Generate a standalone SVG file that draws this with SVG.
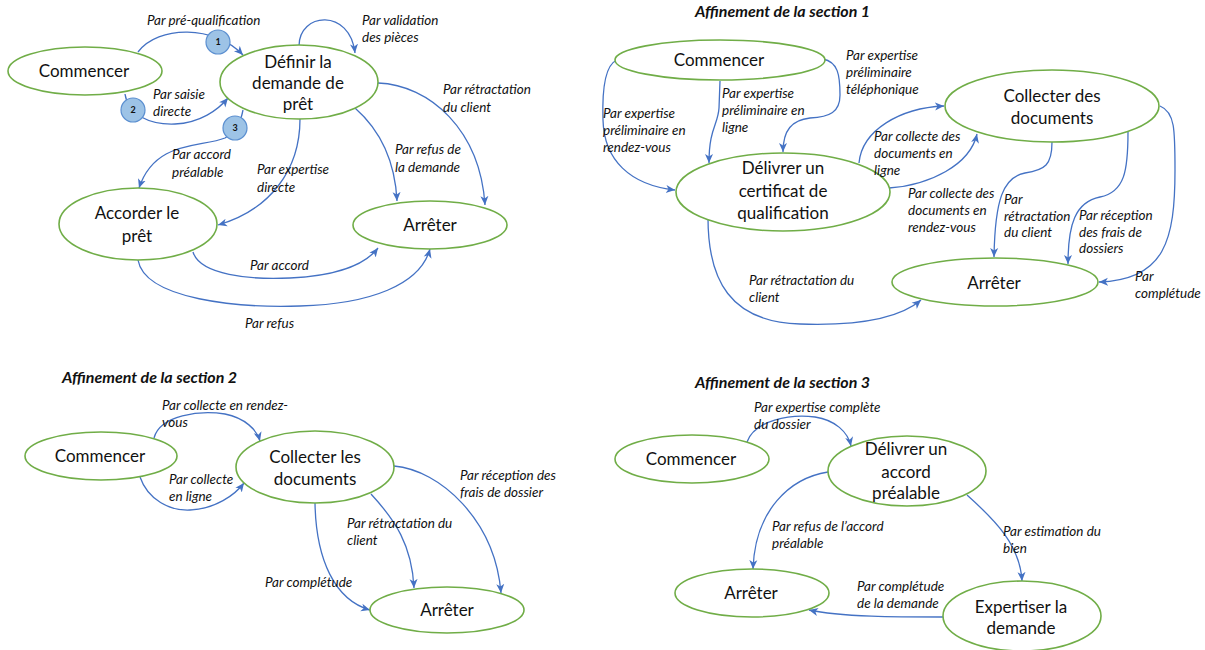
<svg xmlns="http://www.w3.org/2000/svg" width="1205" height="650" viewBox="0 0 1205 650">
<style>
  .nd ellipse{fill:#fff;stroke:#70AD47;stroke-width:1.6}
  .nd text{font-family:Lato,"Open Sans","Liberation Sans",sans-serif;font-size:17px;fill:#111;text-anchor:middle}
  .cn path{fill:none;stroke:#4472C4;stroke-width:1.3}
  .arr{marker-end:url(#ah)}
  .lb text{font-family:Lato,"Open Sans","Liberation Sans",sans-serif;font-size:13.5px;font-style:italic;fill:#111}
  .ttl{font-family:Lato,"Open Sans","Liberation Sans",sans-serif;font-size:16px;font-style:italic;font-weight:bold;fill:#111}
  .bd circle{fill:#9DC3E6;stroke:#5B8FD0;stroke-width:1.2}
  .bd text{font-family:Lato,"Liberation Sans",sans-serif;font-size:9px;font-weight:bold;fill:#111;text-anchor:middle}
</style>
<defs>
  <marker id="ah" markerUnits="userSpaceOnUse" markerWidth="11" markerHeight="11" refX="9" refY="5" orient="auto">
    <path d="M0,1 L9,5 L0,9 L2.5,5 z" fill="#4472C4"/>
  </marker>
</defs>
<rect width="1205" height="650" fill="#fff"/>

<!-- titles -->
<text class="ttl" x="695" y="17">Affinement de la section 1</text>
<text class="ttl" x="62" y="383">Affinement de la section 2</text>
<text class="ttl" x="695" y="388">Affinement de la section 3</text>

<!-- connectors -->
<g id="connectors" class="cn">
  <!-- main diagram -->
  <path class="arr" d="M138,52 C158,25 215,25 243,55"/>
  <path class="arr" d="M125,94 C128,115 150,125 175,124 C200,123 218,110 228,98"/>
  <path class="arr" d="M243,110 C241,120 238,130 225,138 C200,148 155,140 139,188"/>
  <path class="arr" d="M299,46 C299,12 350,8 355,53"/>
  <path class="arr" d="M378,83 C430,85 480,130 485,205"/>
  <path class="arr" d="M355,108 C380,130 395,160 397,201"/>
  <path class="arr" d="M300,119 C300,170 270,210 218,225"/>
  <path class="arr" d="M193,252 C200,275 250,280 290,278 C335,276 365,265 378,248"/>
  <path class="arr" d="M138,260 C145,300 240,308 300,306 C370,304 420,285 430,249"/>
  <!-- section 1 -->
  <path class="arr" d="M617,60 C605,65 602,90 603,120 C604,160 630,185 675,190"/>
  <path class="arr" d="M720,81 L719,108 C718,125 709,128 709,163"/>
  <path class="arr" d="M823,59 C838,62 840,75 840,95 C840,112 830,117 810,118 C792,120 783,130 783,152"/>
  <path class="arr" d="M859,163 C862,130 900,108 944,106"/>
  <path class="arr" d="M889,188 C930,185 970,165 977,134"/>
  <path class="arr" d="M1052,142 C1052,165 1045,170 1025,173 C1003,177 995,200 994,257"/>
  <path class="arr" d="M1128,132 C1128,170 1125,192 1100,197 C1075,202 1068,225 1068,264"/>
  <path class="arr" d="M1160,106 C1175,112 1175,130 1175,170 C1175,240 1165,280 1099,282"/>
  <path class="arr" d="M708,218 C708,280 730,322 800,324 C860,326 900,318 921,300"/>
  <!-- section 2 -->
  <path class="arr" d="M154,438 C160,415 200,410 225,414 C245,418 257,430 260,441"/>
  <path class="arr" d="M140,477 C148,500 170,511 190,510 C215,509 235,495 244,483"/>
  <path class="arr" d="M315,503 C316,560 335,600 370,610"/>
  <path class="arr" d="M371,494 C395,520 412,545 414,588"/>
  <path class="arr" d="M394,466 C440,470 495,520 501,593"/>
  <!-- section 3 -->
  <path class="arr" d="M747,442 C755,420 790,414 815,417 C835,420 848,432 851,446"/>
  <path class="arr" d="M828,472 C790,478 755,510 753,569"/>
  <path class="arr" d="M967,495 C995,520 1020,545 1022,581"/>
  <path class="arr" d="M943,617 C900,617 840,617 809,610"/>
</g>

<!-- badges -->
<g id="badge1" class="bd"><circle cx="218" cy="42" r="12"/><text x="218" y="45">1</text></g>
<g id="badge2" class="bd"><circle cx="133" cy="110" r="12"/><text x="133" y="113">2</text></g>
<g id="badge3" class="bd"><circle cx="235" cy="128" r="12"/><text x="235" y="131">3</text></g>

<!-- main nodes -->
<g id="m-commencer" class="nd"><ellipse cx="85" cy="71" rx="77" ry="24"/><text x="84" y="77">Commencer</text></g>
<g id="m-definir" class="nd"><ellipse cx="299" cy="82" rx="79" ry="37"/><text x="298" y="68">Définir la</text><text x="298" y="89">demande de</text><text x="298" y="110">prêt</text></g>
<g id="m-accorder" class="nd"><ellipse cx="138" cy="224" rx="79" ry="36"/><text x="137" y="219">Accorder le</text><text x="137" y="242">prêt</text></g>
<g id="m-arreter" class="nd"><ellipse cx="430" cy="225" rx="77" ry="24"/><text x="430" y="231">Arrêter</text></g>

<!-- section 1 nodes -->
<g id="s1-commencer" class="nd"><ellipse cx="720" cy="60" rx="105" ry="20"/><text x="719" y="66">Commencer</text></g>
<g id="s1-delivrer" class="nd"><ellipse cx="783" cy="192" rx="107" ry="39"/><text x="783" y="174">Délivrer un</text><text x="783" y="197">certificat de</text><text x="783" y="219">qualification</text></g>
<g id="s1-collecter" class="nd"><ellipse cx="1052" cy="106" rx="107" ry="36"/><text x="1052" y="102">Collecter des</text><text x="1052" y="124">documents</text></g>
<g id="s1-arreter" class="nd"><ellipse cx="995" cy="282" rx="103" ry="24"/><text x="994" y="289">Arrêter</text></g>

<!-- section 2 nodes -->
<g id="s2-commencer" class="nd"><ellipse cx="101" cy="456" rx="76" ry="24"/><text x="100" y="462">Commencer</text></g>
<g id="s2-collecter" class="nd"><ellipse cx="315" cy="467" rx="79" ry="36"/><text x="315" y="463">Collecter les</text><text x="315" y="485">documents</text></g>
<g id="s2-arreter" class="nd"><ellipse cx="447" cy="610" rx="77" ry="23"/><text x="447" y="616">Arrêter</text></g>

<!-- section 3 nodes -->
<g id="s3-commencer" class="nd"><ellipse cx="692" cy="459" rx="77" ry="24"/><text x="691" y="465">Commencer</text></g>
<g id="s3-delivrer" class="nd"><ellipse cx="907" cy="471" rx="79" ry="35"/><text x="906" y="455">Délivrer un</text><text x="906" y="478">accord</text><text x="906" y="499">préalable</text></g>
<g id="s3-arreter" class="nd"><ellipse cx="752" cy="593" rx="77" ry="24"/><text x="751" y="599">Arrêter</text></g>
<g id="s3-expertiser" class="nd"><ellipse cx="1022" cy="616" rx="79" ry="35"/><text x="1021" y="613">Expertiser la</text><text x="1021" y="634">demande</text></g>

<!-- edge labels -->
<g id="edge-labels" class="lb">
  <text x="147" y="25">Par pré-qualification</text>
  <text x="153" y="99">Par saisie</text><text x="153" y="116">directe</text>
  <text x="172" y="159">Par accord</text><text x="172" y="177">préalable</text>
  <text x="362" y="25">Par validation</text><text x="362" y="42">des pièces</text>
  <text x="443" y="94">Par rétractation</text><text x="443" y="112">du client</text>
  <text x="395" y="154">Par refus de</text><text x="395" y="172">la demande</text>
  <text x="257" y="174">Par expertise</text><text x="257" y="192">directe</text>
  <text x="250" y="270">Par accord</text>
  <text x="245" y="328">Par refus</text>

  <text x="603" y="118">Par expertise</text><text x="603" y="135">préliminaire en</text><text x="603" y="152">rendez-vous</text>
  <text x="722" y="98">Par expertise</text><text x="722" y="115">préliminaire en</text><text x="722" y="132">ligne</text>
  <text x="846" y="60">Par expertise</text><text x="846" y="77">préliminaire</text><text x="846" y="94">téléphonique</text>
  <text x="874" y="141">Par collecte des</text><text x="874" y="158">documents en</text><text x="874" y="175">ligne</text>
  <text x="908" y="198">Par collecte des</text><text x="908" y="215">documents en</text><text x="908" y="232">rendez-vous</text>
  <text x="1004" y="204">Par</text><text x="1004" y="221">rétractation</text><text x="1004" y="237">du client</text>
  <text x="1079" y="220">Par réception</text><text x="1079" y="237">des frais de</text><text x="1079" y="253">dossiers</text>
  <text x="1135" y="281">Par</text><text x="1135" y="298">complétude</text>
  <text x="749" y="285">Par rétractation du</text><text x="749" y="302">client</text>

  <text x="162" y="410">Par collecte en rendez-</text><text x="162" y="427">vous</text>
  <text x="169" y="484">Par collecte</text><text x="169" y="501">en ligne</text>
  <text x="265" y="587">Par complétude</text>
  <text x="347" y="528">Par rétractation du</text><text x="347" y="545">client</text>
  <text x="460" y="480">Par réception des</text><text x="460" y="497">frais de dossier</text>

  <text x="754" y="412">Par expertise complète</text><text x="754" y="429">du dossier</text>
  <text x="772" y="531">Par refus de l’accord</text><text x="772" y="548">préalable</text>
  <text x="1003" y="536">Par estimation du</text><text x="1003" y="553">bien</text>
  <text x="857" y="591">Par complétude</text><text x="857" y="608">de la demande</text>
</g>
</svg>
